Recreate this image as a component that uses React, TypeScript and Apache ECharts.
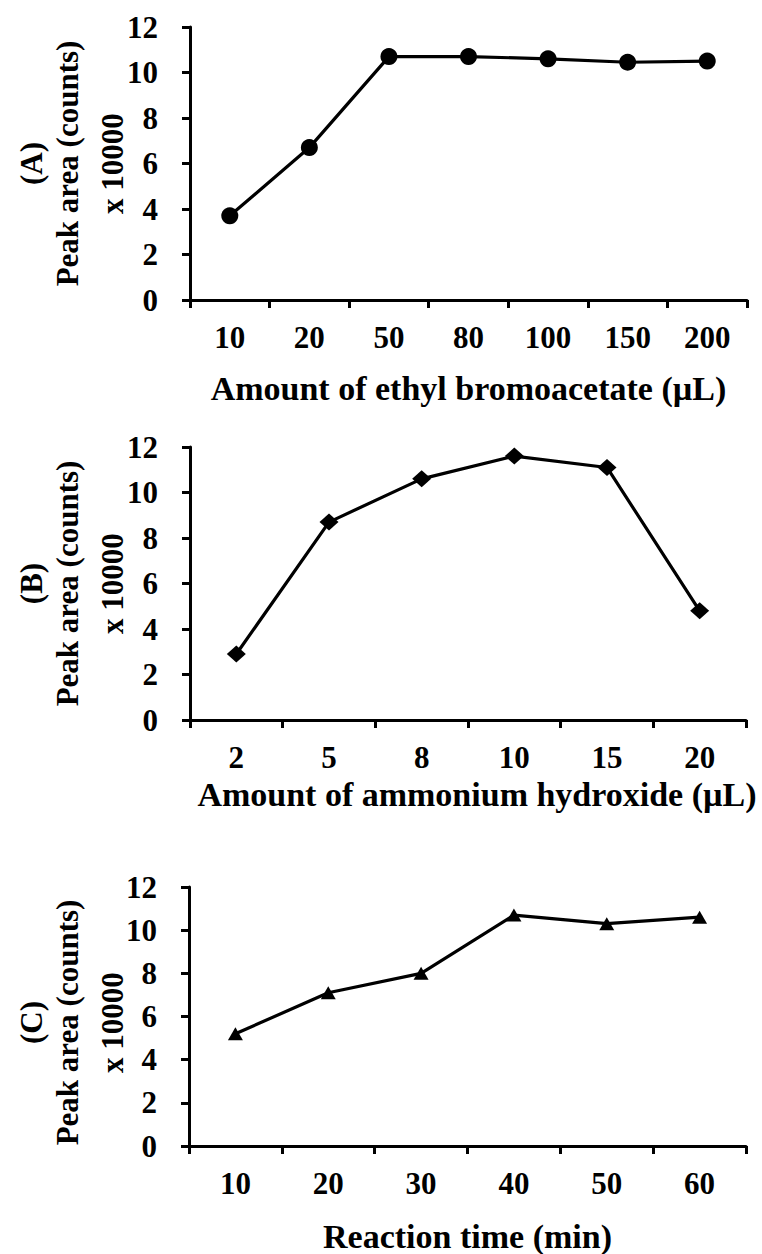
import React, { useEffect, useRef } from "react";
import * as echarts from "echarts";

const catsA = ["10", "20", "50", "80", "100", "150", "200"];
const valsA = [3.7, 6.7, 10.7, 10.7, 10.6, 10.45, 10.5];
const catsB = ["2", "5", "8", "10", "15", "20"];
const valsB = [2.9, 8.7, 10.6, 11.6, 11.1, 4.8];
const catsC = ["10", "20", "30", "40", "50", "60"];
const valsC = [5.2, 7.1, 8.0, 10.7, 10.3, 10.6];

const xTitleA = "Amount of ethyl bromoacetate (µL)";
const xTitleB = "Amount of ammonium hydroxide (µL)";
const xTitleC = "Reaction time (min)";
const panelLabels = ["(A)", "(B)", "(C)"];
const yTitle = "Peak area (counts)";
const yUnit = "x 10000";

const FONT = "'Liberation Serif', 'DejaVu Serif', serif";

export default function App() {
  const ref = useRef<HTMLDivElement>(null);
  useEffect(() => {
    document.body.style.margin = "0";
    const chart = echarts.init(ref.current!, null, { renderer: "svg" });
    const grids = [
      { left: 190, top: 27, width: 557, height: 273 },
      { left: 190, top: 447, width: 556, height: 273 },
      { left: 189, top: 887, width: 557, height: 271 },
    ];
    const cats = [catsA, catsB, catsC];
    const vals = [valsA, valsB, valsC];
    const titles = [xTitleA, xTitleB, xTitleC];
    const nameGaps = [71, 57, 73];
    const namePads = [[0, 0, 0, 0], [0, 0, 0, 18], [0, 0, 0, 0]];
    const symbols = ["circle", "diamond", "triangle"];
    const sizes: any[] = [17, [19, 17], [15, 13]];

    const axisLine = { show: true, lineStyle: { color: "#000", width: 3 } };
    const axisTick = { show: true, length: 8, lineStyle: { color: "#000", width: 3 } };

    const xAxis = cats.map((c, i) => ({
      type: "category",
      gridIndex: i,
      data: c,
      boundaryGap: true,
      axisLine,
      axisTick: { ...axisTick, alignWithLabel: false },
      axisLabel: { color: "#000", fontSize: 31, fontWeight: "bold", fontFamily: FONT, margin: 22 },
      name: titles[i],
      nameLocation: "middle",
      nameGap: nameGaps[i],
      nameTextStyle: { color: "#000", fontSize: 34, fontWeight: "bold", fontFamily: FONT, padding: namePads[i] },
      splitLine: { show: false },
    }));
    const yAxis = cats.map((_, i) => ({
      type: "value",
      gridIndex: i,
      min: 0,
      max: 12,
      interval: 2,
      axisLine,
      axisTick,
      axisLabel: { color: "#000", fontSize: 31, fontWeight: "bold", fontFamily: FONT, margin: 32 },
      splitLine: { show: false },
    }));
    const series = vals.map((v, i) => ({
      type: "line",
      xAxisIndex: i,
      yAxisIndex: i,
      data: v,
      symbol: symbols[i],
      symbolSize: sizes[i],
      showSymbol: true,
      lineStyle: { color: "#000", width: 3.2 },
      itemStyle: { color: "#000" },
    }));
    const textStyle = (text: string, size: number) => ({
      text,
      fontSize: size,
      fontWeight: "bold",
      fontFamily: FONT,
      fill: "#000",
      align: "center",
      verticalAlign: "middle",
    });
    const graphic: any[] = [];
    grids.forEach((g, i) => {
      const cy = g.top + g.height / 2;
      graphic.push({ type: "text", x: 31, y: cy, rotation: Math.PI / 2, style: textStyle(panelLabels[i], 31) });
      graphic.push({ type: "text", x: 67, y: cy, rotation: Math.PI / 2, style: textStyle(yTitle, 31) });
      graphic.push({ type: "text", x: 112, y: cy, rotation: Math.PI / 2, style: textStyle(yUnit, 31) });
    });
    chart.setOption({
      animation: false,
      backgroundColor: "#fff",
      textStyle: { fontFamily: FONT },
      grid: grids,
      xAxis,
      yAxis,
      series,
      graphic,
    });
    return () => chart.dispose();
  }, []);
  return <div ref={ref} style={{ width: 762, height: 1254 }} />;
}
